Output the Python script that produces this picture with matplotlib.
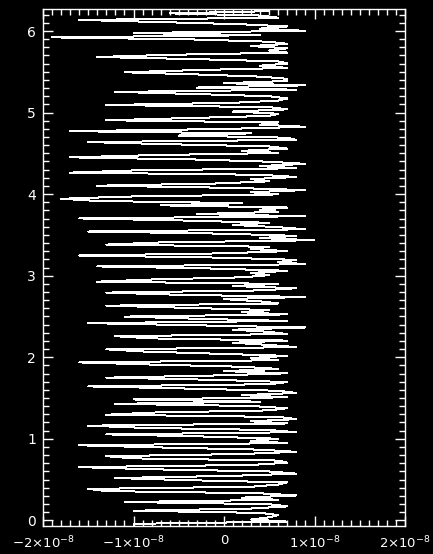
import numpy as np
import matplotlib.pyplot as plt
from matplotlib.ticker import MultipleLocator, FuncFormatter

x_top = [3, 5, -6, 4, 6]
x_blk1 = [-16, -7, 2, 7, 4, 9, -10, 4, -19, -3, 5, 7, 3, 7, 5, 7, -6, -14,
          -3, 6, 7, 4, 7, -3, -11, -3, 4, 7]
x_blk2 = [7, 0, 9, -3, 8, -12, -3, 5, 7, 6, 1, -13, 5, 7, 1, 6, 5, -4, -13,
          6, 4, 9, 0, -17, 3, -5, 7]
x_blk3 = [8, -15, -6, 5, 7, 2, 6, -8, -17, -3, 5, 9, 4, 8, -10, -17, 4, 8,
          3, 5, -1, -14, 1, 9, 3, 6, -11, -18]
x_blk4 = [-14, 2, -7, 7, 4, 6, -3, 9, -16, -4, 5, 1, 6, 9, -15, 0, 8, 4, 10,
          -7, -13, 5, 3, 7, 0, -16, 0, 8]
x_blk5 = [6, 9, -14, -1, 7, 3, 5, 2, -8, -14, 6, 1, 8, 4, -13, -5, 9, 0, 4,
          6, -13, -4, 5, 2, 7, -11, -3, 7]
x_blk6 = [-15, -3, 9, 1, 5, 7, -12, -8, 7, 1, 5, 8, -13, -9, -1, 7, 3, 6,
          -16, -8, 2, 6, 0, 7, -1, -13, -1, 7]
x_blk7 = [5, -15, -4, 6, 8, 2, 7, -10, 4]
x_bottom = [-12, 3, 7, 5, -8, -13, 6, 8, 3, 7, -15, -9, 5, 8, -13, -2, 6, 3,
            7, -16, -7, 4, 8, 2, -13, -10, 6, 7, 3, -16, -8, 5, 8, 1, -12, -4,
            7, 6, 3, -15, -13, 4, 8, 2, 6, -11, 5, 7, 3, -10, 4, 6, 5, 3, 7,
            -10, -10]

x_vals = np.array(x_top + x_blk1 + x_blk2 + x_blk3 + x_blk4 + x_blk5 +
                  x_blk6 + x_blk7 + x_bottom, dtype=float) * 1e-9

y_top = 6.27
y_bottom = -0.07
y_vals = np.linspace(y_top, y_bottom, len(x_vals))

x_ticks = [-2e-8, -1e-8, 0, 1e-8, 2e-8]
x_ticklabels = [r'$-2{\times}10^{-8}$', r'$-1{\times}10^{-8}$', '0',
                r'$1{\times}10^{-8}$', r'$2{\times}10^{-8}$']

fig = plt.figure(figsize=(4.33, 5.54), dpi=100, facecolor='black')
ax = fig.add_axes([43 / 433, 1 - 526 / 554, 362 / 433, 517 / 554])
ax.set_facecolor('black')

# IDL-style raster look: thin line, no antialiasing
ax.plot(x_vals, y_vals, color='white', lw=0.72, antialiased=False)

ax.set_xlim(-2e-8, 2e-8)
ax.set_ylim(y_bottom, y_top)
ax.set_xticks(x_ticks)
ax.set_xticklabels(x_ticklabels)
ax.xaxis.set_minor_locator(MultipleLocator(1e-9))
ax.yaxis.set_major_locator(MultipleLocator(1))
ax.yaxis.set_minor_locator(MultipleLocator(0.1))
ax.yaxis.set_major_formatter(FuncFormatter(lambda v, p: '%d' % round(v)))

for s in ax.spines.values():
    s.set_color('white')
    s.set_linewidth(1)
ax.tick_params(which='both', direction='in', colors='white', top=True,
               right=True, width=1)
ax.tick_params(which='major', length=7, labelsize=10, pad=5)
ax.tick_params(which='minor', length=4)
ax.tick_params(axis='x', which='major', labelsize=9.5, pad=6)

fig.savefig('out.png', dpi=100, facecolor='black')
